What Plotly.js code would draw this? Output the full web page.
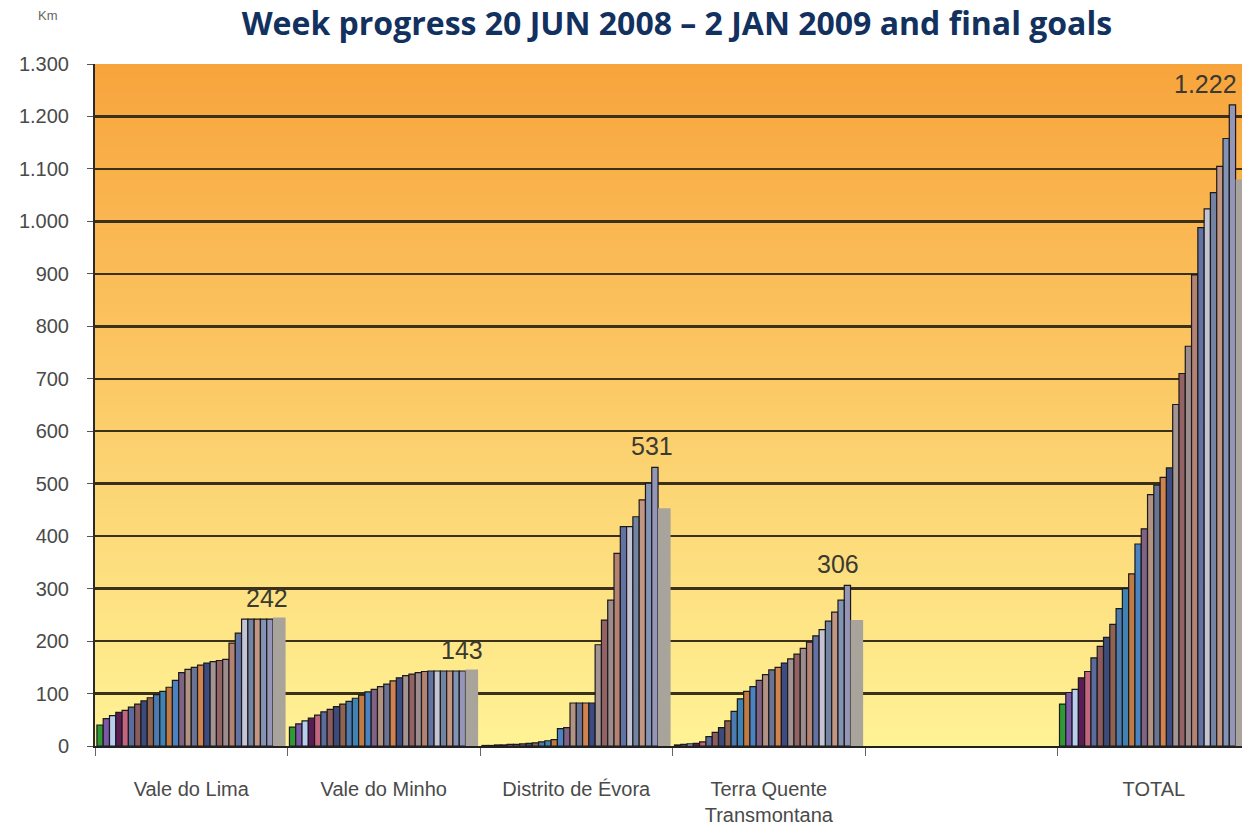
<!DOCTYPE html>
<html><head><meta charset="utf-8">
<script src="https://cdn.plot.ly/plotly-3.0.1.min.js"></script>
<style>html,body{margin:0;padding:0;background:#fff;overflow:hidden}#chart{width:1242px;height:828px}</style>
</head><body><div id="chart"></div>
<script>
// ---- data ----
const categories = ['Vale do Lima', 'Vale do Minho', 'Distrito de Évora', 'Terra Quente<br>Transmontana', ' ', 'TOTAL'];
const weeks = ['27 JUN','4 JUL','11 JUL','18 JUL','25 JUL','1 AUG','8 AUG','15 AUG','22 AUG','29 AUG','5 SEP','12 SEP','19 SEP','26 SEP','3 OCT','10 OCT','17 OCT','24 OCT','31 OCT','7 NOV','14 NOV','21 NOV','28 NOV','5 DEC','12 DEC','19 DEC','26 DEC','2 JAN'];
const valeDoLima      = [40, 52, 58, 64, 68, 74, 80, 86, 92, 98, 104, 112, 125, 140, 146, 150, 154, 158, 161, 163, 165, 196, 215, 242, 242, 242, 242, 242];
const valeDoMinho     = [36, 42, 48, 53, 59, 65, 70, 75, 80, 85, 91, 97, 103, 108, 113, 118, 124, 130, 134, 137, 140, 142, 143, 143, 143, 143, 143, 143];
const distritoDeEvora = [1, 1, 2, 2, 3, 3, 4, 5, 6, 8, 10, 12, 33, 35, 82, 82, 82, 82, 193, 240, 278, 367, 418, 418, 437, 469, 501, 531];
const terraQuente     = [2, 3, 4, 5, 8, 18, 26, 35, 48, 66, 90, 104, 113, 125, 136, 145, 150, 158, 166, 175, 186, 198, 210, 222, 238, 255, 278, 306];
const totalKm         = [80, 102, 108, 130, 142, 168, 190, 207, 232, 262, 300, 328, 385, 414, 479, 497, 512, 530, 651, 710, 762, 898, 988, 1024, 1055, 1105, 1158, 1222];
const finalGoals      = [245, 146, 453, 240, null, 1080];
const yTicks = [0, 100, 200, 300, 400, 500, 600, 700, 800, 900, 1000, 1100, 1200, 1300];

// ---- styles ----
const weekColors = ['#2f9a35','#7d58a8','#b9cdee','#5a1c55','#c2657e','#5b6b9c','#8c5b5e','#3c4a7c',
  '#8e6352','#4c7bb2','#3f82b4','#c27a45','#4a82c2','#7f6284','#b29282','#6b7394',
  '#d1834f','#3c4c82','#a39393','#936264','#9c8c8e','#b38272','#6272a3','#c4c4d4',
  '#7383a3','#c39583','#8393b3','#9595b8'];
const goalColor = '#a9a49b';

const nSlots = 30;
const slotW = 0.98 / nSlots;

const traces = [];
for (let i = 0; i < weeks.length; i++) {
  traces.push({
    type: 'bar', name: weeks[i], x: categories,
    y: [valeDoLima[i], valeDoMinho[i], distritoDeEvora[i], terraQuente[i], null, totalKm[i]],
    offset: -0.49 + i * slotW, width: slotW,
    marker: {color: weekColors[i], line: {color: '#1a1a1a', width: 1.2}},
    hoverinfo: 'x+y+name'
  });
}
traces.push({
  type: 'bar', name: 'Final goal', x: categories, y: finalGoals,
  offset: -0.49 + weeks.length * slotW, width: 2 * slotW,
  marker: {color: goalColor, line: {width: 0}}
});

// gradient background bands
const topC = [248, 164, 60], botC = [255, 243, 150];
const shapes = [];
const N = 140;
for (let k = 0; k < N; k++) {
  const t = (k + 0.5) / N;
  const c = botC.map((b, j) => Math.round(b + (topC[j] - b) * t));
  shapes.push({type: 'rect', xref: 'paper', yref: 'paper', x0: 0, x1: 1, y0: k / N, y1: Math.min(1, (k + 1.6) / N),
    fillcolor: 'rgb(' + c.join(',') + ')', line: {width: 0}, layer: 'below'});
}

// value labels at final week
const lastVals = [valeDoLima, valeDoMinho, distritoDeEvora, terraQuente, null, totalKm].map(a => a ? a[a.length - 1] : null);
const labelPos = [0.395, 0.405, 0.395, 0.36, null, 0.27];
const annotations = [];
lastVals.forEach((v, i) => {
  if (v === null) return;
  annotations.push({x: i + labelPos[i], y: v, xref: 'x', yref: 'y', yanchor: 'bottom', yshift: 5,
    text: v.toLocaleString('de-DE'), showarrow: false,
    font: {family: 'Liberation Sans, Arial', size: 25, color: '#3a3a32'}});
});
annotations.push({xref: 'paper', yref: 'paper', x: 0, y: 1, xanchor: 'center', yanchor: 'middle', xshift: -47, yshift: 49,
  text: 'Km', showarrow: false, font: {family: 'Liberation Sans, Arial', size: 13, color: '#666'}});

const layout = {
  width: 1242, height: 828,
  margin: {l: 95, r: 0, t: 64, b: 82},
  paper_bgcolor: '#ffffff', plot_bgcolor: 'rgba(0,0,0,0)',
  barmode: 'overlay', separators: ',.', showlegend: false,
  title: {text: '<b>Week progress 20 JUN 2008 – 2 JAN 2009 and final goals</b>',
    font: {family: 'Open Sans, Noto Sans', size: 32, color: '#12315f'},
    x: 0.545, xanchor: 'center', y: 0.985, yanchor: 'top', pad: {t: 0}},
  xaxis: {type: 'category', categoryorder: 'array', categoryarray: categories, range: [-0.5, 5.458],
    tickson: 'boundaries', ticks: 'outside', ticklen: 8, tickwidth: 1, tickcolor: '#666',
    showline: true, linecolor: '#222', linewidth: 2, showgrid: false, zeroline: false,
    tickfont: {family: 'Liberation Sans, Arial', size: 20, color: '#4a4a4a'}, ticklabelstandoff: 24},
  yaxis: {range: [0, 1300], tickvals: yTicks, tickformat: ',d', ticks: 'outside', ticklen: 6, tickcolor: '#555',
    showline: true, linecolor: '#2a2a2a', linewidth: 2, showgrid: true, gridcolor: '#3b301a', gridwidth: 2.5,
    zeroline: false, tickfont: {family: 'Liberation Sans, Arial', size: 20, color: '#4a4a4a'}, ticklabelstandoff: 14},
  shapes: shapes, annotations: annotations
};

Plotly.newPlot('chart', traces, layout, {displayModeBar: false, staticPlot: true});
</script></body></html>
